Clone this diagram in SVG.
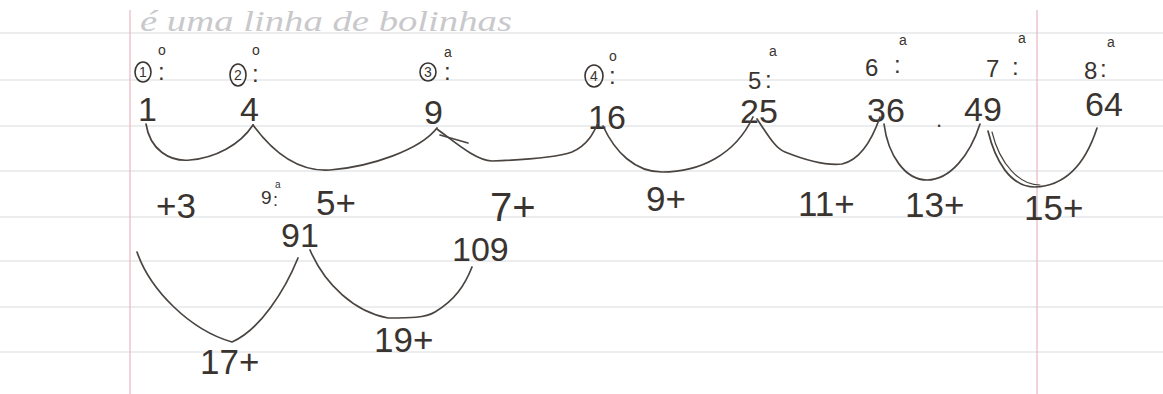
<svg xmlns="http://www.w3.org/2000/svg" width="1163" height="394" viewBox="0 0 1163 394">
<style>
.rule{stroke:#d9dbe0;stroke-width:1.2}
.margin{stroke:#eab6c2;stroke-width:1.2}
.ink{fill:#3a3430;font-family:"Liberation Sans",Arial,sans-serif}
.num{font-size:34px}
.lab{font-size:35px}
.ord{font-size:24px}
.cd{font-size:14px}
.sup{font-size:14px}
.circ{fill:none;stroke:#3a3430;stroke-width:1.6}
.arc{fill:none;stroke:#4a4440;stroke-width:1.7;stroke-linecap:round;stroke-linejoin:round}
.faint{fill:#c9c9cc;font-family:"Liberation Serif",serif;font-style:italic;font-size:30px}
</style>
<rect width="1163" height="394" fill="#ffffff"/>
<g id="paper">
<line class="rule" x1="0" y1="33" x2="1163" y2="33"/>
<line class="rule" x1="0" y1="80" x2="1163" y2="80"/>
<line class="rule" x1="0" y1="126" x2="1163" y2="126"/>
<line class="rule" x1="0" y1="171" x2="1163" y2="171"/>
<line class="rule" x1="0" y1="217" x2="1163" y2="217"/>
<line class="rule" x1="0" y1="261" x2="1163" y2="261"/>
<line class="rule" x1="0" y1="307" x2="1163" y2="307"/>
<line class="rule" x1="0" y1="352" x2="1163" y2="352"/>
<line class="margin" x1="130" y1="10" x2="130" y2="394"/>
<line class="margin" x1="1037" y1="10" x2="1037" y2="394"/>
<text class="faint" x="140" y="31" textLength="372" lengthAdjust="spacingAndGlyphs">é uma linha de bolinhas</text>
</g>
<g id="ordinals" class="ink">
<g id="ord1"><ellipse class="circ" cx="143" cy="72" rx="8" ry="10"/><text class="cd" x="143" y="77" text-anchor="middle">1</text><text class="sup" x="158" y="55">o</text><text class="ord" x="158" y="80">:</text></g>
<g id="ord2"><ellipse class="circ" cx="238" cy="75" rx="8" ry="11"/><text class="cd" x="238" y="80" text-anchor="middle">2</text><text class="sup" x="252" y="55">o</text><text class="ord" x="252" y="82">:</text></g>
<g id="ord3"><ellipse class="circ" cx="428" cy="72" rx="8" ry="9"/><text class="cd" x="428" y="77" text-anchor="middle">3</text><text class="sup" x="444" y="57">a</text><text class="ord" x="444" y="80">:</text></g>
<g id="ord4"><ellipse class="circ" cx="594" cy="76" rx="9" ry="11"/><text class="cd" x="594" y="81" text-anchor="middle">4</text><text class="sup" x="609" y="61">o</text><text class="ord" x="609" y="84">:</text></g>
<g id="ord5"><text class="ord" x="748" y="89">5</text><text class="sup" x="769" y="56">a</text><text class="ord" x="765" y="88">:</text></g>
<g id="ord6"><text class="ord" x="865" y="76">6</text><text class="sup" x="899" y="45">a</text><text class="ord" x="894" y="73">:</text></g>
<g id="ord7"><text class="ord" x="986" y="77">7</text><text class="sup" x="1018" y="43">a</text><text class="ord" x="1012" y="75">:</text></g>
<g id="ord8"><text class="ord" x="1084" y="79">8</text><text class="sup" x="1107" y="47">a</text><text class="ord" x="1100" y="77">:</text></g>
</g>
<g id="n1" class="ink"><text class="num" x="138" y="121">1</text></g>
<g id="n4" class="ink"><text class="num" x="240" y="121">4</text></g>
<g id="n9" class="ink"><text class="num" x="424" y="124">9</text></g>
<g id="n16" class="ink"><text class="num" x="588" y="129">16</text></g>
<g id="n25" class="ink"><text class="num" x="740" y="123">25</text></g>
<g id="n36" class="ink"><text class="num" x="867" y="122">36</text><text x="936" y="127" style="font-size:22px">.</text></g>
<g id="n49" class="ink"><text class="num" x="964" y="121">49</text></g>
<g id="n64" class="ink"><text class="num" x="1085" y="116">64</text></g>
<g id="n91" class="ink"><text class="num" x="281" y="247">91</text></g>
<g id="n109" class="ink"><text class="num" x="452" y="261">109</text></g>
<g id="labels" class="ink">
<text class="lab" x="156" y="218">+3</text>
<text x="261" y="204" style="font-size:19px">9</text><text x="275" y="188" style="font-size:10px">a</text><text x="273" y="206" style="font-size:18px">:</text>
<text class="lab" x="316" y="215">5+</text>
<text x="490" y="221" style="font-size:40px">7+</text>
<text class="lab" x="646" y="211">9+</text>
<text class="lab" x="798" y="216">11+</text>
<text class="lab" x="905" y="217">13+</text>
<text class="lab" x="1024" y="220">15+</text>
<text class="lab" x="374" y="352">19+</text>
<text class="lab" x="200" y="374">17+</text>
</g>
<g id="connectors">
<path class="arc" d="M146,124 C150,150 170,162 190,160 C215,158 240,145 253,125"/>
<path class="arc" d="M253,125 C275,155 300,172 330,170 C370,167 420,150 437,128"/>
<path class="arc" d="M437,129 C455,142 475,160 492,161 C520,160 555,158 572,152 C588,145 594,132 598,123"/>
<path class="arc" d="M440,135 L468,143"/>
<path class="arc" d="M603,126 C615,152 635,172 662,172 C700,172 735,155 753,117"/>
<path class="arc" d="M757,119 C768,135 775,148 785,152 C800,158 825,166 842,164 C860,160 872,140 880,117"/>
<path class="arc" d="M884,124 C888,155 905,180 927,180 C950,180 970,155 980,124"/>
<path class="arc" d="M988,131 C995,160 1010,187 1035,187 C1065,186 1085,165 1097,128"/>
<path class="arc" d="M992,132 C1000,165 1020,185 1040,185" style="stroke-width:1.2px"/>
<path class="arc" d="M137,252 C150,290 190,330 232,342 C260,330 285,290 298,258"/>
<path class="arc" d="M310,250 C325,285 355,312 388,318 C410,318 425,318 435,312 C455,300 465,285 472,267"/>
</g>
</svg>
